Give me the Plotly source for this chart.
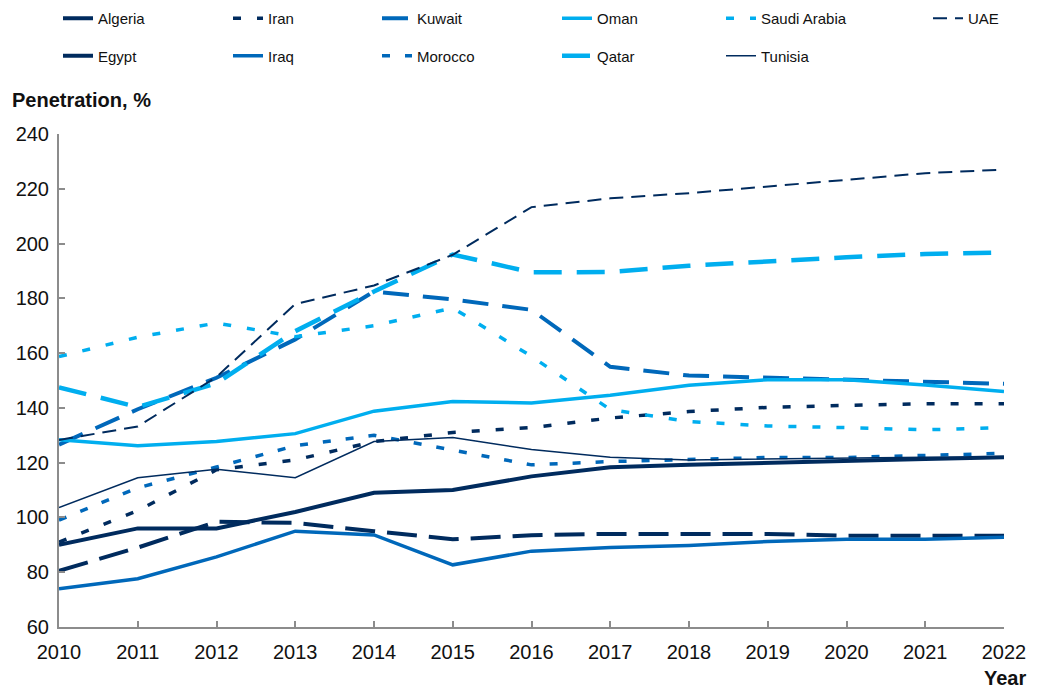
import plotly.graph_objects as go

years = list(range(2010, 2023))

algeria = [90, 96, 96, 102, 109, 110, 115, 118.3, 119.2, 119.8, 120.6, 121.3, 122]
egypt = [80.5, 89, 98.4, 98, 95, 92, 93.5, 94, 94, 94, 93.3, 93.3, 93.3]
iran = [91, 102.5, 117.4, 121, 127.7, 131, 132.8, 136.3, 138.7, 140.2, 140.9, 141.5, 141.5]
iraq = [74, 77.6, 85.6, 95, 93.6, 82.7, 87.7, 89, 89.8, 91.2, 92, 92, 92.8]
kuwait = [126.6, 139.5, 151, 165, 182.5, 179.6, 175.8, 155, 151.8, 151, 150.5, 149.6, 148.8]
morocco = [99, 110.8, 118.4, 126.2, 130, 124.5, 119.2, 120.4, 121, 121.9, 121.9, 122.6, 123.4]
oman = [128.4, 126.2, 127.7, 130.6, 138.8, 142.3, 141.8, 144.6, 148.3, 150.3, 150.3, 148.4, 146]
qatar = [147.5, 140.3, 149, 168, 182.5, 196, 189.5, 189.6, 191.9, 193.5, 195, 196.2, 196.7]
saudi = [158.7, 165.8, 171, 166, 170, 176.5, 158.8, 139.4, 135, 133.4, 132.8, 132, 132.8]
tunisia = [103.6, 114.5, 117.6, 114.5, 127.7, 129.2, 124.8, 122, 121, 121.3, 121.7, 122, 122]
uae = [128.3, 133.2, 151.3, 177.9, 184.7, 195.9, 213.3, 216.5, 218.4, 220.8, 223.3, 225.7, 227]

y_ticks = [60, 80, 100, 120, 140, 160, 180, 200, 220, 240]

NAVY = "#002B5E"
MID = "#0068BA"
LIGHT = "#00AEEF"

# name, values, color, width, dash, legend column
series = [
    ("Algeria", algeria, NAVY, 4, "solid", 1),
    ("Egypt", egypt, NAVY, 4, "30px,12px", 1),
    ("Iran", iran, NAVY, 3.5, "8px,16px", 2),
    ("Iraq", iraq, MID, 3.5, "solid", 2),
    ("Kuwait", kuwait, MID, 4, "26px,14px", 3),
    ("Morocco", morocco, MID, 3.5, "8px,15px", 3),
    ("Oman", oman, LIGHT, 3.5, "solid", 4),
    ("Qatar", qatar, LIGHT, 4.5, "28px,15px", 4),
    ("Saudi Arabia", saudi, LIGHT, 3.5, "8px,16px", 5),
    ("Tunisia", tunisia, NAVY, 1.5, "solid", 5),
    ("UAE", uae, NAVY, 2, "14px,8px", 6),
]

fig = go.Figure()
for name, vals, color, width, dash, col in series:
    fig.add_trace(go.Scatter(
        x=years, y=vals, mode="lines", name=name,
        line=dict(color=color, width=width, dash=dash),
        legend="legend" if col == 1 else f"legend{col}",
        legendgroup=name,
    ))

W, H = 1037, 690
ML, MR, MT, MB = 59, 33, 134, 63
PW, PH = W - ML - MR, H - MT - MB


def px_x(px):
    return (px - ML) / PW


def px_y(py):
    return (H - MB - py) / PH


text_x = [98, 268, 417, 597, 761, 968]
legend_common = dict(
    orientation="v", xref="paper", yref="paper",
    xanchor="left", yanchor="top", y=px_y(2),
    font=dict(family="Liberation Sans, Arial", size=15, color="#111111"),
    bgcolor="rgba(0,0,0,0)", borderwidth=0, tracegroupgap=15,
    traceorder="grouped",
)
layout_legends = {}
for i, tx in enumerate(text_x):
    key = "legend" if i == 0 else f"legend{i + 1}"
    layout_legends[key] = dict(legend_common, x=px_x(tx - 40))

axis_color = "#8C8C8C"
fig.update_layout(
    width=W, height=H,
    margin=dict(l=ML, r=MR, t=MT, b=MB, autoexpand=False),
    plot_bgcolor="white", paper_bgcolor="white",
    font=dict(family="Liberation Sans, Arial", size=20, color="#111111"),
    showlegend=True,
    xaxis=dict(
        range=[2010, 2022], tickmode="array", tickvals=years,
        ticktext=[str(y) for y in years],
        showgrid=False, zeroline=False, showline=True,
        linecolor=axis_color, linewidth=2,
        ticks="inside", ticklen=6, tickcolor=axis_color, tickwidth=2,
        ticklabelstandoff=6, automargin=False,
    ),
    yaxis=dict(
        range=[60, 240], tickmode="array", tickvals=y_ticks,
        showgrid=False, zeroline=False, showline=True,
        linecolor=axis_color, linewidth=2,
        ticks="inside", ticklen=6, tickcolor=axis_color, tickwidth=2,
        ticklabelstandoff=4, automargin=False,
    ),
    annotations=[
        dict(text="<b>Penetration, %</b>", xref="paper", yref="paper",
             x=px_x(10), y=px_y(100),
             xanchor="left", yanchor="middle", showarrow=False,
             font=dict(size=20)),
        dict(text="<b>Year</b>", xref="paper", yref="paper",
             x=px_x(1028), y=px_y(678),
             xanchor="right", yanchor="middle", showarrow=False,
             font=dict(size=20)),
    ],
    **layout_legends,
)

fig.write_html("out.html", post_script="document.body.style.margin='0';",
               config={"displayModeBar": False})
